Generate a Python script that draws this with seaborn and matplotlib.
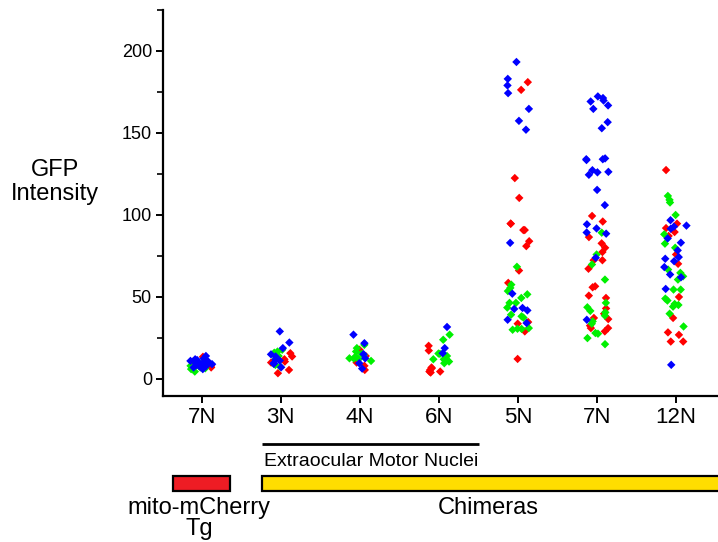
import numpy as np
import pandas as pd
import seaborn as sns
import matplotlib.pyplot as plt
from matplotlib.patches import Rectangle
from matplotlib.transforms import blended_transform_factory

# category keys (7N appears twice) and their printed labels
groups = ["7N_tg", "3N", "4N", "6N", "5N", "7N", "12N"]
tick_labels = ["7N", "3N", "4N", "6N", "5N", "7N", "12N"]

tg7n_red = [13.5, 11, 10, 9, 8, 7, 10.5]
tg7n_green = [4.5, 6, 7, 8, 9, 6.5, 10]
tg7n_blue = [14, 12.5, 11, 10, 9.5, 9, 8.5, 8, 7.5, 7, 6, 10.5, 11.5, 12, 8, 9]

n3_red = [13.7, 10.6, 15.7, 5.5, 3.5, 10, 12]
n3_green = [17.8, 16.7, 16, 14, 7.5, 8.6, 12.5]
n3_blue = [29, 22.2, 18.8, 13.7, 11.8, 11.2, 9.2, 9.6, 7.1, 15]

n4_red = [17.8, 10, 5.5, 14, 8]
n4_green = [20.8, 18.8, 14.7, 16.7, 15.3, 13.7, 12, 12.6, 12.5, 11]
n4_blue = [27, 21.8, 15.1, 12.6, 9.6, 6.3]

n6_red = [20.2, 17.3, 6.5, 3.9, 4.5, 5.5, 4.5, 7]
n6_green = [27, 23.9, 15.3, 12, 12, 10.6, 14, 9.6, 15.5]
n6_blue = [31.7, 18.8, 15.7]

n5_red = [181, 176.3, 122.5, 110.4, 94.7, 94.7, 90.8, 90.8, 84, 81, 66.1,
          58.6, 33.7, 34.7, 29, 12.2]
n5_green = [68.4, 57.5, 55.5, 53.6, 51.6, 49.4, 46.4, 46.4, 43.5, 39.2, 37.4,
            38.2, 30.6, 30, 30.5, 31]
n5_blue = [193.3, 183, 179, 174.3, 164.7, 157.4, 152, 83, 52, 43.3, 41.8,
           42.7, 36.1, 34.1]

n7_red = [99.4, 96, 86.5, 82.7, 80, 77.4, 72.4, 72.4, 67.2, 55.9, 56.5, 49.4,
          50.8, 43, 39.8, 36.5, 37.2, 32.5, 31, 29, 31]
n7_green = [89.2, 75.9, 69.8, 60.6, 46.4, 43.7, 41.5, 38.6, 40.6, 35.1, 33.7,
            28, 27.6, 24.9, 21.2]
n7_blue = [172.3, 169.8, 169.2, 166.8, 171.3, 164.7, 156.6, 152.9, 134.5, 134,
           133.5, 134, 127.3, 126, 124.5, 126.3, 115.3, 106, 94.3, 91.8, 89.3,
           88.6, 73.9, 36.1]

n12_red = [127.4, 94.7, 92, 87.2, 89.6, 75.9, 70.2, 50, 37.2, 26.9, 28.4,
           22.8, 22.8]
n12_green = [111.6, 109.2, 107.6, 100, 88.2, 82.5, 80, 66.7, 64.7, 62.6, 60.6,
             54.5, 54.5, 49, 45.7, 44.1, 45.1, 47.8, 39.8, 32]
n12_blue = [96.8, 92.9, 93.5, 91.6, 85.7, 83.1, 78.4, 74.3, 73.3, 71.8, 68.2,
            63.7, 62, 54.9, 8.6]

series = {
    "7N_tg": (tg7n_red, tg7n_green, tg7n_blue),
    "3N": (n3_red, n3_green, n3_blue),
    "4N": (n4_red, n4_green, n4_blue),
    "6N": (n6_red, n6_green, n6_blue),
    "5N": (n5_red, n5_green, n5_blue),
    "7N": (n7_red, n7_green, n7_blue),
    "12N": (n12_red, n12_green, n12_blue),
}

rows = []
for g, (r, gr, b) in series.items():
    for colour, vals in zip(["red", "green", "blue"], [r, gr, b]):
        for v in vals:
            rows.append({"group": g, "colour": colour, "GFP": v})
df = pd.DataFrame(rows)

sns.set_style("ticks")
plt.rcParams['font.family'] = ['Liberation Sans', 'DejaVu Sans']
plt.rcParams['text.color'] = 'black'
plt.rcParams['xtick.color'] = 'black'
plt.rcParams['ytick.color'] = 'black'
plt.rcParams['axes.edgecolor'] = 'black'

W, H = 718, 542
fig = plt.figure(figsize=(W / 100, H / 100), dpi=100)
ax = fig.add_axes([163 / W, 1 - 396 / H, (W - 163) / W, (396 - 10) / H])

np.random.seed(3)
palette = {"red": "#ff0000", "green": "#00f000", "blue": "#0000ff"}
sns.stripplot(data=df, x="group", y="GFP", hue="colour", order=groups,
              hue_order=["red", "green", "blue"], palette=palette,
              marker="D", size=4.3, linewidth=0, jitter=0.15,
              legend=False, ax=ax)

ax.set_xlim(-0.49, 6.53)
ax.set_ylim(-10.4, 225)
ax.set_yticks([0, 50, 100, 150, 200])
ax.set_yticks([25, 75, 125, 175, 225], minor=True)
ax.set_xticks(range(len(groups)))
ax.set_xticklabels(tick_labels)
ax.set_xlabel("")
ax.set_ylabel("")
for s in ["top", "right"]:
    ax.spines[s].set_visible(False)
for s in ["left", "bottom"]:
    ax.spines[s].set_linewidth(1.6)
ax.tick_params(axis="both", which="major", length=5, width=1.4,
               colors="black")
ax.tick_params(axis="both", which="minor", length=4, width=1.2,
               colors="black")
ax.tick_params(axis="x", labelsize=16, pad=3)
ax.tick_params(axis="y", labelsize=13, pad=3)

fig.text(55 / W, 1 - 182 / H, "GFP\nIntensity", ha="center", va="center",
         fontsize=17, linespacing=1.15)

# annotations under the axis
trans = blended_transform_factory(ax.transData, fig.transFigure)
fy = lambda px: 1 - px / H
ax.plot([0.76, 3.51], [fy(444), fy(444)], transform=trans, color="black",
        lw=2, clip_on=False, solid_capstyle="butt")
ax.text(0.79, fy(461), "Extraocular Motor Nuclei", transform=trans,
        ha="left", va="center", fontsize=14)
ax.add_patch(Rectangle((-0.367, fy(491)), 0.72, 15 / H, transform=trans,
                       facecolor="#ee1c24", edgecolor="black", lw=1.6,
                       clip_on=False))
ax.add_patch(Rectangle((0.76, fy(491)), 6.5, 15 / H, transform=trans,
                       facecolor="#ffdd00", edgecolor="black", lw=1.6,
                       clip_on=False))
ax.text(-0.03, fy(508), "mito-mCherry", transform=trans, ha="center",
        va="center", fontsize=17)
ax.text(-0.03, fy(529), "Tg", transform=trans, ha="center", va="center",
        fontsize=17)
ax.text(3.62, fy(508), "Chimeras", transform=trans, ha="center",
        va="center", fontsize=17)

fig.savefig("out.png", dpi=100)
